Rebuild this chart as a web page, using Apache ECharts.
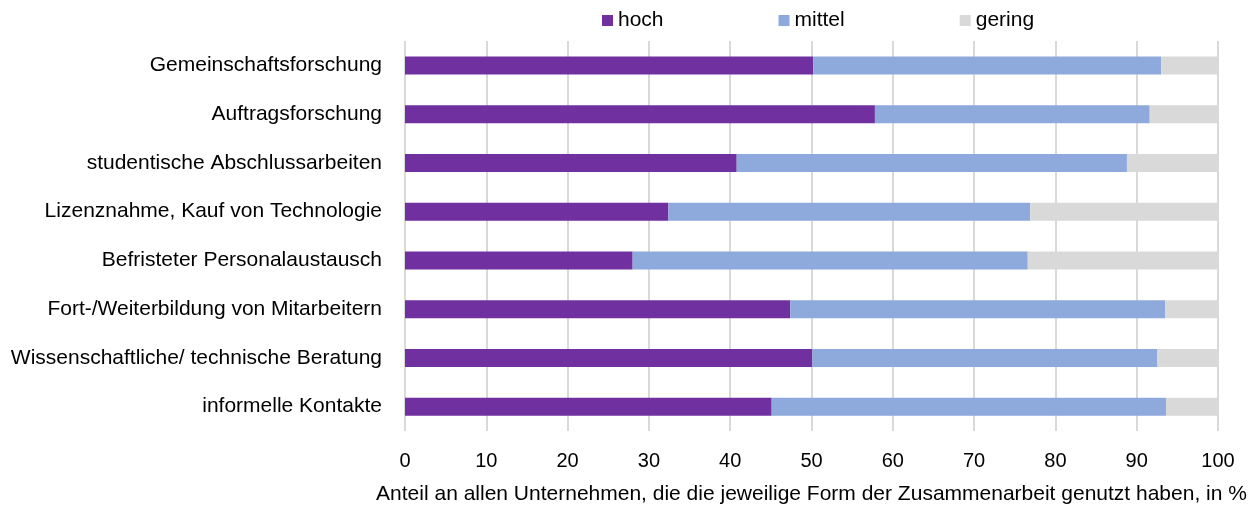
<!DOCTYPE html>
<html>
<head>
<meta charset="utf-8">
<script src="https://cdn.jsdelivr.net/npm/echarts@6/dist/echarts.min.js"></script>
<style>
html,body{margin:0;padding:0;background:#fff;}
#main{width:1252px;height:510px;}
</style>
</head>
<body>
<div id="main"></div>
<script>
const categories = [
  "Gemeinschaftsforschung",
  "Auftragsforschung",
  "studentische Abschlussarbeiten",
  "Lizenznahme, Kauf von Technologie",
  "Befristeter Personalaustausch",
  "Fort-/Weiterbildung von Mitarbeitern",
  "Wissenschaftliche/ technische Beratung",
  "informelle Kontakte"
];
const hoch   = [50.2, 57.8, 40.8, 32.4, 28.0, 47.4, 50.1, 45.1];
const mittel = [42.8, 33.8, 48.0, 44.5, 48.6, 46.1, 42.4, 48.5];
const gering = [7.0, 8.4, 11.2, 23.1, 23.4, 6.5, 7.5, 6.4];
const seriesNames = ["hoch", "mittel", "gering"];
const xAxisTitle = "Anteil an allen Unternehmen, die die jeweilige Form der Zusammenarbeit genutzt haben, in %";

const FONT = "'Liberation Sans', Arial, sans-serif";
const colors = ["#7030A0", "#8EA9DB", "#D9D9D9"];
const chart = echarts.init(document.getElementById('main'), null, {renderer: 'canvas'});
const values = [hoch, mittel, gering];
chart.setOption({
  animation: false,
  backgroundColor: '#ffffff',
  textStyle: {fontFamily: FONT},
  legend: {
    data: seriesNames,
    left: 602,
    top: 10,
    padding: 0,
    icon: 'rect',
    itemWidth: 11,
    itemHeight: 11,
    itemGap: 115,
    textStyle: {fontFamily: FONT, fontSize: 21, color: '#000', padding: [0,0,0,0]}
  },
  grid: {left: 405, right: 34, top: 41, bottom: 75, containLabel: false},
  xAxis: {
    type: 'value',
    min: 0, max: 100, interval: 10,
    axisLine: {show: false},
    axisTick: {show: false},
    splitLine: {show: true, lineStyle: {color: '#D9D9D9', width: 2}},
    axisLabel: {fontFamily: FONT, fontSize: 20, color: '#000', margin: 20},
    name: xAxisTitle,
    nameLocation: 'middle',
    nameGap: 53,
    nameTextStyle: {fontFamily: FONT, fontSize: 21, color: '#000'}
  },
  yAxis: {
    type: 'category',
    data: categories,
    inverse: true,
    axisLine: {show: false},
    axisTick: {show: false},
    splitLine: {show: false},
    axisLabel: {fontFamily: FONT, fontSize: 21, color: '#000', margin: 23}
  },
  series: seriesNames.map((n, i) => ({
    name: n,
    type: 'bar',
    stack: 'total',
    barWidth: 18,
    itemStyle: {color: colors[i]},
    data: values[i]
  }))
});
</script>
</body>
</html>
